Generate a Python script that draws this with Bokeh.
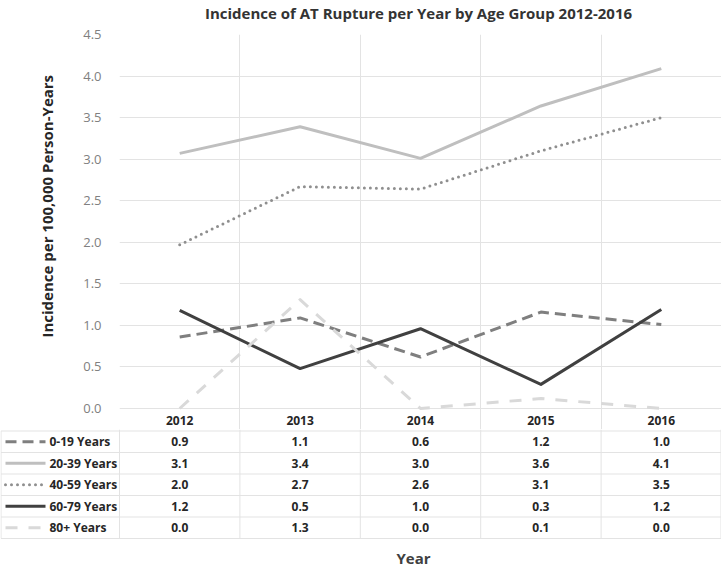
from bokeh.plotting import figure
from bokeh.models import Range1d, FixedTicker, NumeralTickFormatter, Title
from bokeh.embed import file_html
from bokeh.resources import INLINE
from bokeh.core.properties import value

# ---------------- data ----------------
years = [2012, 2013, 2014, 2015, 2016]
series_names = ["0-19 Years", "20-39 Years", "40-59 Years", "60-79 Years", "80+ Years"]
inc_0_19 = [0.86, 1.09, 0.62, 1.16, 1.01]
inc_20_39 = [3.07, 3.39, 3.01, 3.64, 4.09]
inc_40_59 = [1.97, 2.67, 2.64, 3.10, 3.50]
inc_60_79 = [1.18, 0.48, 0.96, 0.29, 1.19]
inc_80_plus = [0.00, 1.31, 0.00, 0.12, 0.00]
y_ticks = [0.0, 0.5, 1.0, 1.5, 2.0, 2.5, 3.0, 3.5, 4.0, 4.5]
title_text = "Incidence of AT Rupture per Year by Age Group 2012-2016"
y_title = "Incidence per 100,000 Person-Years"
x_title = "Year"

series_values = [inc_0_19, inc_20_39, inc_40_59, inc_60_79, inc_80_plus]

# ---------------- styles ----------------
colors = ["#7f7f7f", "#bfbfbf", "#8f8f8f", "#404040", "#d9d9d9"]
dashes = ["11 6", "solid", "0 6", "solid", "12 11"]
caps = ["butt", "butt", "round", "butt", "butt"]
LW = 3
FONT = value("Open Sans")
GRID = "#e3e3e3"
TXT = "#262626"

W = 721
HEAD_H = 24            # title strip height
FRAME_LEFT = 119
FRAME_TOP = 34         # page y of the 4.5 line
ZERO_PX = 408          # page y of the 0.0 line
HEAD_TOP = 409         # page y of table header top line
ROW = 21.5             # table row height
CHART_BOTTOM = 429     # page y where the chart figure ends
CHART_H = CHART_BOTTOM - HEAD_H
TAB_H = 566 - CHART_BOTTOM
Y1 = 4.5
PPU = (ZERO_PX - FRAME_TOP) / Y1            # px per y unit
Y0 = -(CHART_BOTTOM - ZERO_PX) / PPU
X0, X1 = years[0] - 0.5, years[-1] + 0.5

# ---------------- title strip ----------------
head = figure(width=W, height=HEAD_H, x_range=Range1d(0, W), y_range=Range1d(HEAD_H, 0),
              output_backend="svg", toolbar_location=None, x_axis_location=None,
              y_axis_location=None, min_border=0)
head.outline_line_color = None
head.grid.visible = False
head.background_fill_color = "white"
head.border_fill_color = "white"
head.text(x=[418], y=[12.5], text=[title_text], text_font=FONT, text_font_style="bold",
          text_font_size="15px", text_color="#333333", text_align="center",
          text_baseline="alphabetic")

# ---------------- chart ----------------
p = figure(width=W, height=CHART_H, x_range=Range1d(X0, X1), y_range=Range1d(Y0, Y1),
           output_backend="svg", toolbar_location=None, x_axis_location=None,
           min_border_left=FRAME_LEFT, min_border_right=0, min_border_top=FRAME_TOP - HEAD_H,
           min_border_bottom=0)
p.outline_line_color = None
p.background_fill_color = "white"
p.border_fill_color = "white"

p.xgrid.ticker = FixedTicker(ticks=[y - 0.5 for y in years] + [years[-1] + 0.5])
p.xgrid.grid_line_color = GRID
p.ygrid.ticker = FixedTicker(ticks=y_ticks)
p.ygrid.grid_line_color = GRID

ax = p.yaxis[0]
ax.ticker = FixedTicker(ticks=y_ticks)
ax.formatter = NumeralTickFormatter(format="0.0")
ax.axis_line_color = None
ax.major_tick_line_color = None
ax.minor_tick_line_color = None
ax.major_tick_out = 0
ax.major_tick_in = 0
ax.major_label_standoff = 18
ax.major_label_text_font = "Open Sans"
ax.major_label_text_font_size = "13px"
ax.major_label_text_color = "#808080"

ytitle = Title(text=y_title, align="left", offset=92, standoff=48,
               text_font="Open Sans", text_font_style="bold", text_font_size="15px",
               text_color="#262626")
p.add_layout(ytitle, "left")

for vals, c, d, cap in zip(series_values, colors, dashes, caps):
    p.line(years, vals, line_color=c, line_width=LW, line_dash=d, line_cap=cap,
           line_join="round")

# table header row (category labels) sits in the chart figure
head_y = -((HEAD_TOP + ROW / 2) - ZERO_PX) / PPU
p.text(x=years, y=[head_y] * len(years), text=[str(y) for y in years], text_font=FONT,
       text_font_style="bold", text_font_size="12px", text_color=TXT,
       text_align="center", text_baseline="middle")

# ---------------- data table ----------------
UNIT = (W - FRAME_LEFT) / (X1 - X0)        # px per year
TX0 = X0 - FRAME_LEFT / UNIT
TY_TOP = (CHART_BOTTOM - HEAD_TOP) / ROW - 0.5
TY_BOT = TY_TOP + TAB_H / ROW

tab = figure(width=W, height=TAB_H, x_range=Range1d(TX0, X1), y_range=Range1d(TY_BOT, TY_TOP),
             output_backend="svg", toolbar_location=None, x_axis_location=None,
             y_axis_location=None, min_border=0)
tab.outline_line_color = None
tab.grid.visible = False
tab.background_fill_color = "white"
tab.border_fill_color = "white"

def px(v):
    return TX0 + v / UNIT

n = len(series_names)
hy = [k + 0.5 for k in range(n + 1)]
tab.segment(x0=[px(0.5)] * len(hy), y0=hy, x1=[X1] * len(hy), y1=hy, line_color=GRID, line_width=1)
vx = [y - 0.5 for y in years] + [X1 - 0.5 / UNIT]
tab.segment(x0=vx, y0=[TY_TOP] * len(vx), x1=vx, y1=[n + 0.5] * len(vx), line_color=GRID, line_width=1)
tab.segment(x0=[px(0.5)], y0=[0.5], x1=[px(0.5)], y1=[n + 0.5], line_color=GRID, line_width=1)

for i, (name, vals, c, d, cap) in enumerate(zip(series_names, series_values, colors, dashes, caps)):
    row = i + 1
    tab.line([px(5), px(45)], [row, row], line_color=c, line_width=LW, line_dash=d, line_cap=cap)
    tab.text(x=[px(49)], y=[row], text=[name], text_font=FONT, text_font_style="bold",
             text_font_size="12px", text_color=TXT, text_align="left", text_baseline="middle")
    tab.text(x=years, y=[row] * len(years), text=[f"{v:.1f}" for v in vals], text_font=FONT,
             text_font_style="bold", text_font_size="12px", text_color=TXT,
             text_align="center", text_baseline="middle")

tab.text(x=[px(413)], y=[(557 - HEAD_TOP) / ROW - 0.5], text=[x_title], text_font=FONT,
         text_font_style="bold", text_font_size="15px", text_color="#404040",
         text_align="center", text_baseline="middle")

open("out.html", "w").write(file_html([head, p, tab], INLINE))
